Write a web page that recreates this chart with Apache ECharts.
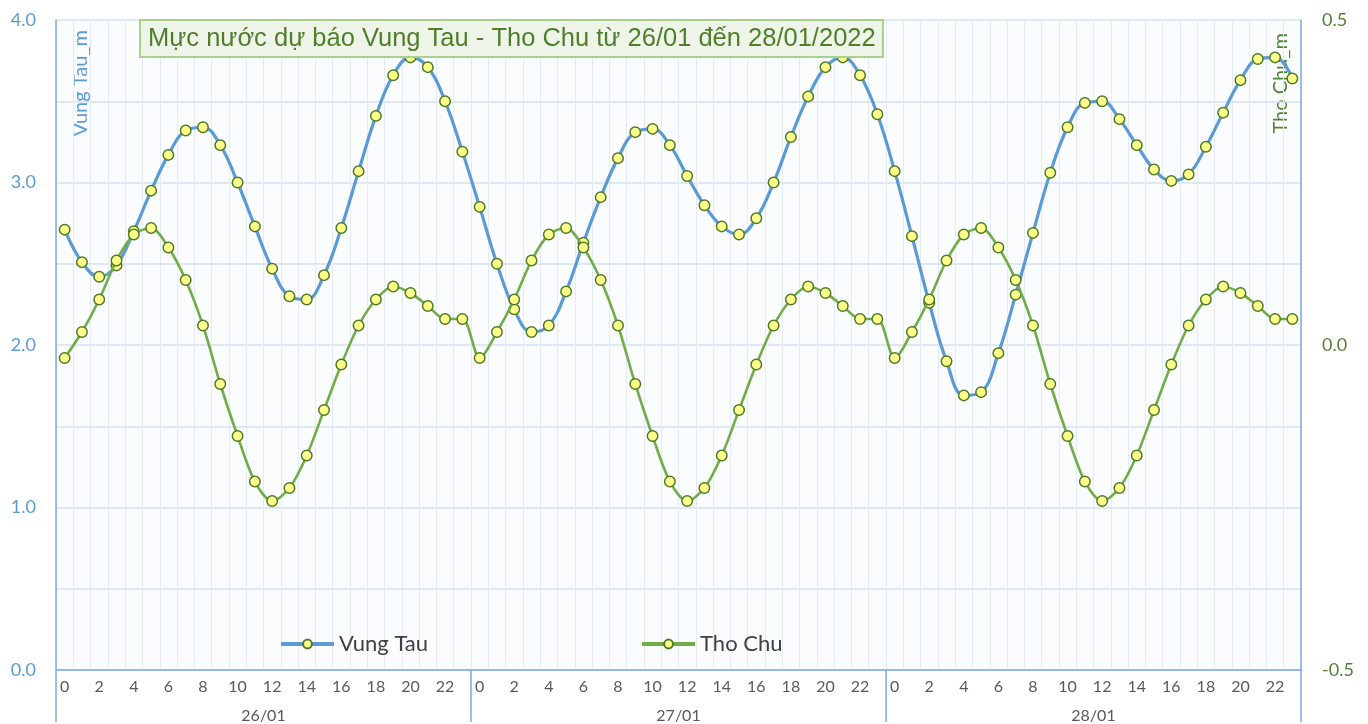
<!DOCTYPE html>
<html>
<head>
<meta charset="utf-8">
<script src="https://cdn.jsdelivr.net/npm/echarts@6/dist/echarts.min.js"></script>
<style>
  html, body { margin: 0; padding: 0; background: #ffffff; }
  #chart { width: 1368px; height: 724px; }
</style>
</head>
<body>
<div id="chart"></div>
<script>
let days = ["26/01", "27/01", "28/01"];
let hours = [];
for (let d = 0; d < days.length; d++) {
  for (let h = 0; h < 24; h++) hours.push(String(h));
}

// Vung Tau (m) - left axis
let vungTau = [
  2.71, 2.51, 2.42, 2.49, 2.70, 2.95, 3.17, 3.32, 3.34, 3.23, 3.00, 2.73,
  2.47, 2.30, 2.28, 2.43, 2.72, 3.07, 3.41, 3.66, 3.77, 3.71, 3.50, 3.19,
  2.85, 2.50, 2.22, 2.08, 2.12, 2.33, 2.63, 2.91, 3.15, 3.31, 3.33, 3.23,
  3.04, 2.86, 2.73, 2.68, 2.78, 3.00, 3.28, 3.53, 3.71, 3.77, 3.66, 3.42,
  3.07, 2.67, 2.26, 1.90, 1.69, 1.71, 1.95, 2.31, 2.69, 3.06, 3.34, 3.49,
  3.50, 3.39, 3.23, 3.08, 3.01, 3.05, 3.22, 3.43, 3.63, 3.76, 3.77, 3.64,
];

// Tho Chu (m) - right axis
let thoChu = [
  -0.02, 0.02, 0.07, 0.13, 0.17, 0.18, 0.15, 0.10, 0.03, -0.06, -0.14, -0.21,
  -0.24, -0.22, -0.17, -0.10, -0.03, 0.03, 0.07, 0.09, 0.08, 0.06, 0.04, 0.04,
  -0.02, 0.02, 0.07, 0.13, 0.17, 0.18, 0.15, 0.10, 0.03, -0.06, -0.14, -0.21,
  -0.24, -0.22, -0.17, -0.10, -0.03, 0.03, 0.07, 0.09, 0.08, 0.06, 0.04, 0.04,
  -0.02, 0.02, 0.07, 0.13, 0.17, 0.18, 0.15, 0.10, 0.03, -0.06, -0.14, -0.21,
  -0.24, -0.22, -0.17, -0.10, -0.03, 0.03, 0.07, 0.09, 0.08, 0.06, 0.04, 0.04,
];

let blue = "#5b9bd5";
let green = "#70ad47";
let darkGreen = "#548235";
let axisBlue = "#7eaadf";
let font = "Lato, 'Open Sans', sans-serif";

let chart = echarts.init(document.getElementById("chart"));

let marker = {
  color: "#ffff8c",
  borderColor: "#4e7a26",
  borderWidth: 1.5,
};

let option = {
  animation: false,
  title: {
    text: "Mực nước dự báo Vung Tau - Tho Chu từ 26/01 đến 28/01/2022",
    left: 140,
    top: 20,
    padding: [6, 8, 5, 8],
    backgroundColor: "#eef4e8",
    borderColor: "#a9d18e",
    borderWidth: 2,
    textStyle: {
      fontFamily: "'Liberation Sans', Arial, sans-serif",
      fontWeight: "normal",
      fontSize: 25.5,
      color: "#4f7f2a",
    },
  },
  legend: {
    left: 274,
    top: 628,
    itemWidth: 53,
    itemHeight: 11,
    itemGap: 212,
    lineStyle: { width: 4 },
    textStyle: { fontFamily: font, fontSize: 22, color: "#404040" },
    data: ["Vung Tau", "Tho Chu"],
  },
  grid: {
    left: 56,
    right: 67,
    top: 20,
    bottom: 52,
    show: true,
    backgroundColor: "#fbfcfe",
    borderWidth: 0,
  },
  xAxis: [
    {
      type: "category",
      data: hours,
      boundaryGap: true,
      axisLine: { onZero: false, lineStyle: { color: axisBlue, width: 1.5 } },
      axisTick: { show: false },
      axisLabel: {
        interval: 1,
        margin: 9,
        fontFamily: font,
        fontSize: 16,
        color: "#595959",
      },
      splitLine: {
        show: true,
        interval: 0,
        lineStyle: { color: "#e4ebf7", width: 1 },
      },
    },
    {
      type: "category",
      data: days,
      position: "bottom",
      boundaryGap: true,
      axisLine: { show: false, onZero: false },
      axisTick: {
        show: true,
        interval: 0,
        length: 52,
        lineStyle: { color: axisBlue, width: 1.5 },
      },
      axisLabel: {
        margin: 38,
        fontFamily: font,
        fontSize: 16,
        color: "#595959",
      },
      splitLine: { show: false },
    },
  ],
  yAxis: [
    {
      type: "value",
      min: 0,
      max: 4,
      interval: 0.5,
      axisLine: { show: true, lineStyle: { color: axisBlue, width: 1.5 } },
      axisTick: { show: false },
      axisLabel: {
        margin: 20,
        fontFamily: font,
        fontSize: 18,
        color: blue,
        formatter: (v) => (Math.abs(v % 1) < 1e-9 ? v.toFixed(1) : ""),
      },
      splitLine: { lineStyle: { color: "#d5e0f1", width: 1.5 } },
    },
    {
      type: "value",
      min: -0.5,
      max: 0.5,
      interval: 0.5,
      axisLine: { show: true, lineStyle: { color: axisBlue, width: 1.5 } },
      axisTick: { show: false },
      axisLabel: {
        margin: 21,
        fontFamily: font,
        fontSize: 18,
        color: darkGreen,
        formatter: (v) => v.toFixed(1),
      },
      splitLine: { show: false },
    },
  ],
  graphic: [
    {
      type: "text",
      x: 71,
      y: 30,
      rotation: Math.PI / 2,
      style: {
        text: "Vung Tau_m",
        textAlign: "right",
        textVerticalAlign: "top",
        fontFamily: font,
        fontSize: 20,
        fill: blue,
      },
    },
    {
      type: "text",
      x: 1271,
      y: 33,
      rotation: Math.PI / 2,
      style: {
        text: "Tho Chu_m",
        textAlign: "right",
        textVerticalAlign: "top",
        fontFamily: font,
        fontSize: 20,
        fill: darkGreen,
      },
    },
  ],
  series: [
    {
      name: "Vung Tau",
      type: "line",
      xAxisIndex: 0,
      yAxisIndex: 0,
      data: vungTau,
      smooth: 0.4,
      symbol: "circle",
      symbolSize: 10.5,
      showAllSymbol: true,
      lineStyle: { color: blue, width: 3.2 },
      itemStyle: marker,
      color: blue,
      z: 2,
    },
    {
      name: "Tho Chu",
      type: "line",
      xAxisIndex: 0,
      yAxisIndex: 1,
      data: thoChu,
      smooth: 0.3,
      symbol: "circle",
      symbolSize: 10.5,
      showAllSymbol: true,
      lineStyle: { color: green, width: 2.6 },
      itemStyle: marker,
      color: green,
      z: 3,
    },
  ],
};

chart.setOption(option);
</script>
</body>
</html>
